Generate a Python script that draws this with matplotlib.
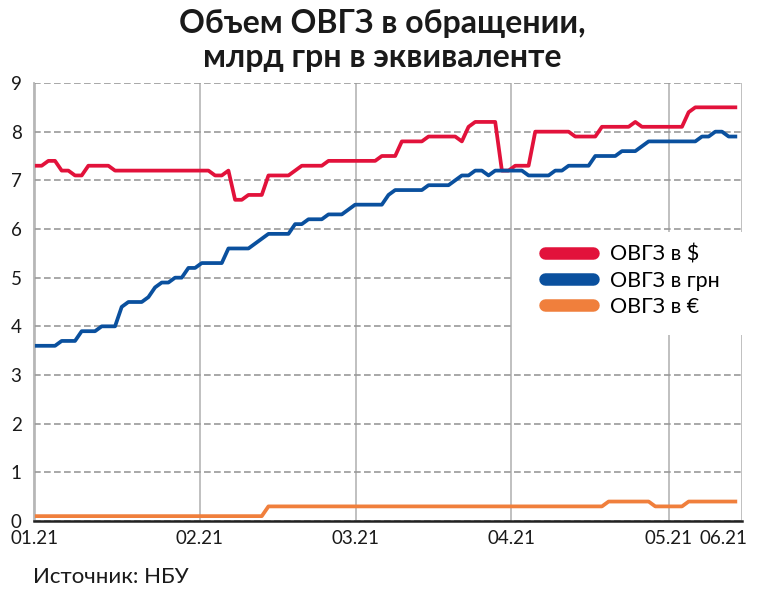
import matplotlib.pyplot as plt
import numpy as np
from matplotlib.patches import Rectangle

plt.rcParams['font.family'] = ['Lato', 'DejaVu Sans']

# values, one point per trading day
usd = [7.3, 7.3, 7.4, 7.4, 7.2, 7.2, 7.1, 7.1, 7.3, 7.3,
       7.3, 7.3, 7.2, 7.2, 7.2, 7.2, 7.2, 7.2, 7.2, 7.2,
       7.2, 7.2, 7.2, 7.2, 7.2, 7.2, 7.2, 7.1, 7.1, 7.2,
       6.6, 6.6, 6.7, 6.7, 6.7, 7.1, 7.1, 7.1, 7.1, 7.2,
       7.3, 7.3, 7.3, 7.3, 7.4, 7.4, 7.4, 7.4, 7.4, 7.4,
       7.4, 7.4, 7.5, 7.5, 7.5, 7.8, 7.8, 7.8, 7.8, 7.9,
       7.9, 7.9, 7.9, 7.9, 7.8, 8.1, 8.2, 8.2, 8.2, 8.2,
       7.2, 7.2, 7.3, 7.3, 7.3, 8.0, 8.0, 8.0, 8.0, 8.0,
       8.0, 7.9, 7.9, 7.9, 7.9, 8.1, 8.1, 8.1, 8.1, 8.1,
       8.2, 8.1, 8.1, 8.1, 8.1, 8.1, 8.1, 8.1, 8.4, 8.5,
       8.5, 8.5, 8.5, 8.5, 8.5, 8.5]
uah = [3.6, 3.6, 3.6, 3.6, 3.7, 3.7, 3.7, 3.9, 3.9, 3.9,
       4.0, 4.0, 4.0, 4.4, 4.5, 4.5, 4.5, 4.6, 4.8, 4.9,
       4.9, 5.0, 5.0, 5.2, 5.2, 5.3, 5.3, 5.3, 5.3, 5.6,
       5.6, 5.6, 5.6, 5.7, 5.8, 5.9, 5.9, 5.9, 5.9, 6.1,
       6.1, 6.2, 6.2, 6.2, 6.3, 6.3, 6.3, 6.4, 6.5, 6.5,
       6.5, 6.5, 6.5, 6.7, 6.8, 6.8, 6.8, 6.8, 6.8, 6.9,
       6.9, 6.9, 6.9, 7.0, 7.1, 7.1, 7.2, 7.2, 7.1, 7.2,
       7.2, 7.2, 7.2, 7.2, 7.1, 7.1, 7.1, 7.1, 7.2, 7.2,
       7.3, 7.3, 7.3, 7.3, 7.5, 7.5, 7.5, 7.5, 7.6, 7.6,
       7.6, 7.7, 7.8, 7.8, 7.8, 7.8, 7.8, 7.8, 7.8, 7.8,
       7.9, 7.9, 8.0, 8.0, 7.9, 7.9]
eur = [0.1, 0.1, 0.1, 0.1, 0.1, 0.1, 0.1, 0.1, 0.1, 0.1,
       0.1, 0.1, 0.1, 0.1, 0.1, 0.1, 0.1, 0.1, 0.1, 0.1,
       0.1, 0.1, 0.1, 0.1, 0.1, 0.1, 0.1, 0.1, 0.1, 0.1,
       0.1, 0.1, 0.1, 0.1, 0.1, 0.3, 0.3, 0.3, 0.3, 0.3,
       0.3, 0.3, 0.3, 0.3, 0.3, 0.3, 0.3, 0.3, 0.3, 0.3,
       0.3, 0.3, 0.3, 0.3, 0.3, 0.3, 0.3, 0.3, 0.3, 0.3,
       0.3, 0.3, 0.3, 0.3, 0.3, 0.3, 0.3, 0.3, 0.3, 0.3,
       0.3, 0.3, 0.3, 0.3, 0.3, 0.3, 0.3, 0.3, 0.3, 0.3,
       0.3, 0.3, 0.3, 0.3, 0.3, 0.3, 0.4, 0.4, 0.4, 0.4,
       0.4, 0.4, 0.4, 0.3, 0.3, 0.3, 0.3, 0.3, 0.4, 0.4,
       0.4, 0.4, 0.4, 0.4, 0.4, 0.4]

month_labels = ['01.21', '02.21', '03.21', '04.21', '05.21', '06.21']
month_pos = [0, 24.7, 48.1, 71.4, 95.0, 106]  # where each month starts on the day axis
series_names = ['ОВГЗ в $', 'ОВГЗ в грн', 'ОВГЗ в €']

x = np.arange(len(usd))

fig = plt.figure(figsize=(7.64, 5.94), dpi=100)
ax = fig.add_axes([34/764, 1 - 521/594, 708/764, 438/594])

ax.plot(x, usd, color='#E2123B', lw=2.7, label=series_names[0])
ax.plot(x, uah, color='#0A509E', lw=2.7, label=series_names[1])
ax.plot(x, eur, color='#F07F3C', lw=2.7, label=series_names[2])

ax.set_xlim(-0.15, 106)
ax.set_ylim(0, 9)
ax.set_yticks(range(0, 10))
ax.set_xticks(month_pos)
# last month label is squeezed against the right edge, drawn separately below
ax.set_xticklabels(month_labels[:-1] + [''])
ax.annotate(month_labels[-1], xy=(month_pos[-1], 0), xycoords=('data', 'axes fraction'),
            xytext=(4, -6.5), textcoords='offset points', ha='right', va='top',
            fontsize=13.5, color='#1a1a1a')

ax.grid(axis='y', linestyle=(0, (4, 2)), color='#999999', lw=1.2)
ax.grid(axis='x', linestyle='-', color='#bbbbbb', lw=1.3)
ax.set_axisbelow(True)
ax.tick_params(length=0, labelsize=13.5, colors='#1a1a1a')
ax.tick_params(axis='y', pad=9)
ax.tick_params(axis='x', pad=6.5)

for s in ['top', 'right']:
    ax.spines[s].set_visible(False)
ax.spines['left'].set_color('#b5b5b5')
ax.spines['left'].set_linewidth(1.3)
ax.spines['bottom'].set_color('#222222')
ax.spines['bottom'].set_linewidth(1.8)

# white block behind the legend that hides the grid there
ax.add_patch(Rectangle((0.678, 0.425), 0.33, 0.235, transform=ax.transAxes,
                       facecolor='white', edgecolor='none', zorder=1, clip_on=False))

leg = ax.legend(loc='upper left', bbox_to_anchor=(0.707, 0.655), fontsize=15.5,
                frameon=True, facecolor='white', edgecolor='none', framealpha=1,
                fancybox=False, handlelength=2.2, handletextpad=0.8,
                labelspacing=0.28, borderpad=0.5, borderaxespad=0)
for line in leg.get_lines():
    line.set_linewidth(9)
    line.set_solid_capstyle('round')

fig.text(0.5, 1 - 9/594, 'Объем ОВГЗ в обращении,\nмлрд грн в эквиваленте',
         ha='center', va='top', fontsize=23, fontweight='bold',
         linespacing=1.2, color='#1a1a1a')
fig.text(33/764, 11/594, 'Источник: НБУ', ha='left', va='baseline',
         fontsize=16, color='#1a1a1a')

fig.savefig('out.png', dpi=100)
